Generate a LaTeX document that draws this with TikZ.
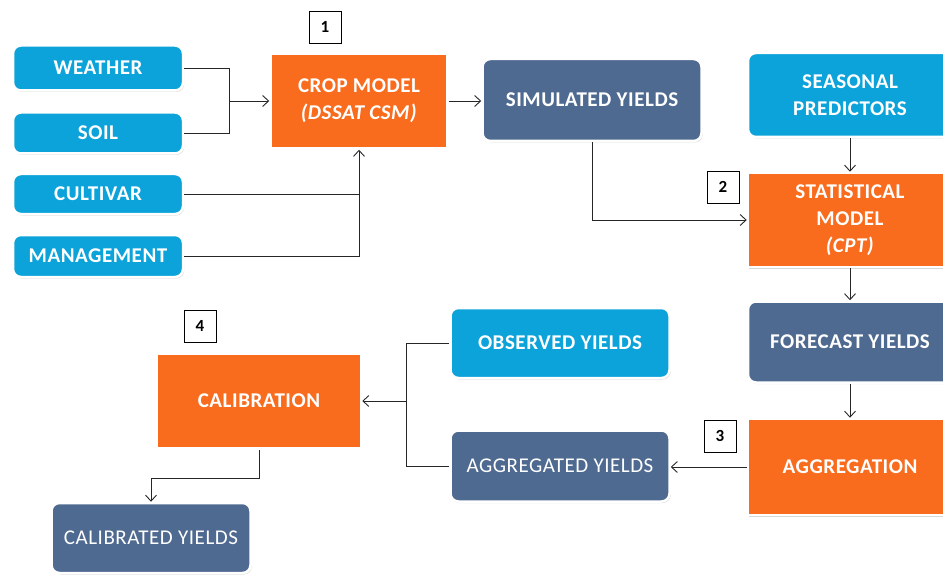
\documentclass[tikz,border=0pt]{standalone}
\usepackage{fontspec}
\setmainfont[LetterSpace=2.5]{Carlito}
\usepackage{xcolor}
\usepackage{tikz}
\usetikzlibrary{shapes,arrows.meta,positioning,shadows}
\definecolor{inputblue}{RGB}{11,163,217}
\definecolor{modelorange}{RGB}{249,108,29}
\definecolor{yieldslate}{RGB}{79,106,145}

\begin{document}
\begin{tikzpicture}[
    x=1pt, y=-1pt,
    base/.style={rectangle, draw=white, line width=2.5pt, text=white, align=center, inner sep=2pt, font=\fontsize{21}{27}\selectfont\bfseries, drop shadow={shadow xshift=1.2pt, shadow yshift=-1.5pt, opacity=0.3}},
    inbox/.style={base, fill=inputblue, rounded corners=8pt},
    model/.style={base, fill=modelorange},
    yieldbox/.style={base, fill=yieldslate, rounded corners=8pt},
    numbox/.style={rectangle, draw=black, line width=0.8pt, fill=white, minimum size=32pt, inner sep=0pt, font=\fontsize{17}{20}\selectfont\bfseries},
    link/.style={line width=0.9pt, draw=black!85},
    arr/.style={link, -{Straight Barb[length=6pt, width=11pt]}}
]
\useasboundingbox (0,0) rectangle (943,575);

% inputs
\node[inbox, minimum width=170pt, minimum height=45pt] (weather) at (98,68) {WEATHER};
\node[inbox, minimum width=170pt, minimum height=41pt] (soil) at (98,133) {SOIL};
\node[inbox, minimum width=170pt, minimum height=40pt] (cultivar) at (98,194) {CULTIVAR};
\node[inbox, minimum width=170pt, minimum height=42pt] (management) at (98,256) {MANAGEMENT};
\node[inbox, minimum width=204pt, minimum height=84pt] (seasonal) at (850,95) {SEASONAL\\PREDICTORS};
\node[inbox, minimum width=219pt, minimum height=70pt] (observed) at (560,343) {OBSERVED YIELDS};

% models
\node[model, minimum width=177pt, minimum height=95pt] (crop) at (359,101) {CROP MODEL\\\textit{(DSSAT CSM)}};
\node[model, minimum width=204pt, minimum height=94pt] (stat) at (850,220) {STATISTICAL\\MODEL\\\textit{(CPT)}};
\node[model, minimum width=204pt, minimum height=96pt] (aggr) at (850,467) {AGGREGATION};
\node[model, minimum width=204pt, minimum height=95pt] (calib) at (259,401) {CALIBRATION};

% yields
\node[yieldbox, minimum width=219pt, minimum height=82pt] (simulated) at (592,100) {SIMULATED YIELDS};
\node[yieldbox, minimum width=204pt, minimum height=81pt] (forecast) at (850,342) {FORECAST YIELDS};
\node[yieldbox, minimum width=219pt, minimum height=71pt, font=\fontsize{21}{27}\selectfont\mdseries] (aggregated) at (560,466) {AGGREGATED YIELDS};
\node[yieldbox, minimum width=199pt, minimum height=70pt, font=\fontsize{21}{27}\selectfont\mdseries] (calibrated) at (151,538) {CALIBRATED YIELDS};

% step numbers
\node[numbox] (n1) at (325,27) {1};
\node[numbox] (n2) at (723,187) {2};
\node[numbox] (n3) at (720,436) {3};
\node[numbox] (n4) at (200,326) {4};

\coordinate (j1) at (229,101);
\coordinate (j2) at (406,401);

\draw[arr] (weather.east) -| (j1) -- (crop.west);
\draw[link] (soil.east) -| (j1);
\draw[arr] (management.east) -| (crop.south);
\draw[link] (cultivar.east) -- (cultivar.east -| crop.south);
\draw[arr] (crop.east) -- (crop.east -| simulated.west);
\draw[arr] (simulated.south) |- (stat.west);
\draw[arr] (seasonal.south) -- (stat.north);
\draw[arr] (stat.south) -- (forecast.north);
\draw[arr] (forecast.south) -- (aggr.north);
\draw[arr] (aggr.west) -- (aggr.west -| aggregated.east);
\draw[link] (observed.west) -| (j2);
\draw[arr] (aggregated.west) -| (j2) -- (calib.east);
\draw[arr] (calib.south) -- ++(0,29) -| (calibrated.north);
\end{tikzpicture}
\end{document}
